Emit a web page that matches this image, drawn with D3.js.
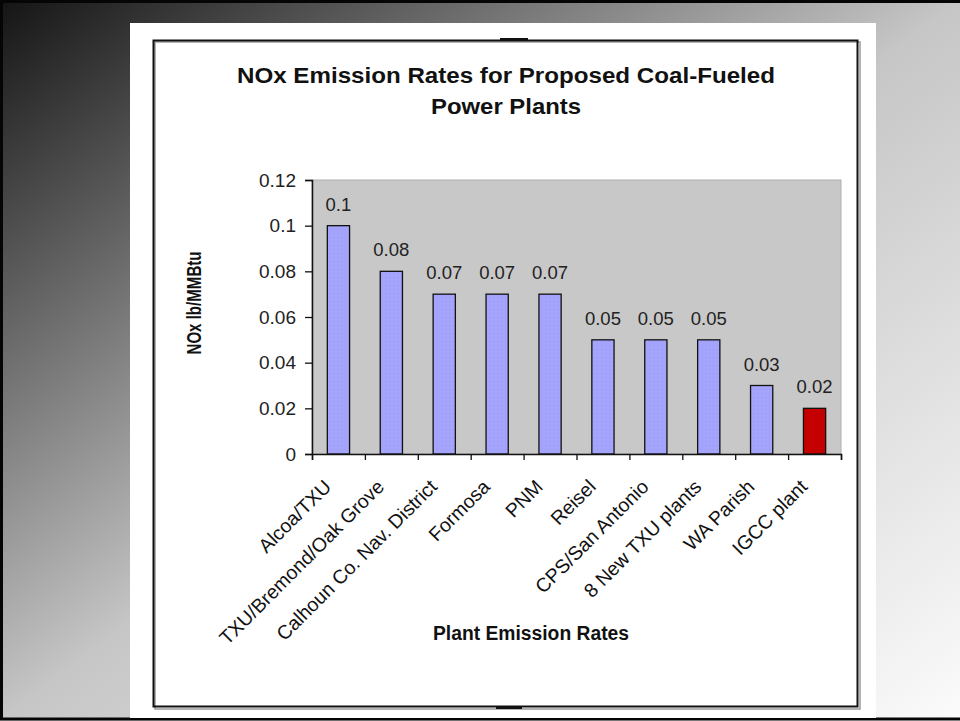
<!DOCTYPE html>
<html>
<head>
<meta charset="utf-8">
<script src="https://cdn.jsdelivr.net/npm/d3@7"></script>
<style>
  html, body { margin: 0; padding: 0; background: #fff; }
  svg { display: block; }
  text { font-family: Arial, "Liberation Sans", sans-serif; }
</style>
</head>
<body>
<svg id="chart" width="960" height="721"></svg>
<script>
// ---- data ----
const titleLines = ["NOx Emission Rates for Proposed Coal-Fueled", "Power Plants"];
const categories = ["Alcoa/TXU", "TXU/Bremond/Oak Grove", "Calhoun Co. Nav. District", "Formosa", "PNM", "Reisel", "CPS/San Antonio", "8 New TXU plants", "WA Parish", "IGCC plant"];
const values = [0.1, 0.08, 0.07, 0.07, 0.07, 0.05, 0.05, 0.05, 0.03, 0.02];
const yTicks = [0, 0.02, 0.04, 0.06, 0.08, 0.1, 0.12];
const highlighted = ["IGCC plant"];
const xTitle = "Plant Emission Rates";
const yTitle = "NOx lb/MMBtu";

// ---- layout ----
const W = 960, H = 721;
const plot = { left: 312, right: 841, top: 180, bottom: 454 };

const svg = d3.select("#chart");
const defs = svg.append("defs");

const bg = defs.append("linearGradient").attr("id", "bg")
  .attr("x1", 0).attr("y1", 0).attr("x2", 1).attr("y2", 1);
bg.append("stop").attr("offset", 0).attr("stop-color", "#141414");
bg.append("stop").attr("offset", 0.5).attr("stop-color", "#c6c6c6");
bg.append("stop").attr("offset", 1).attr("stop-color", "#fbfbfb");

const pat = defs.append("pattern").attr("id", "dots")
  .attr("patternUnits", "userSpaceOnUse").attr("width", 4).attr("height", 4);
pat.append("rect").attr("width", 4).attr("height", 4).attr("fill", "#a4a4fc");
pat.append("rect").attr("x", 1).attr("y", 1).attr("width", 1).attr("height", 1).attr("fill", "#9898ee");

// background
svg.append("rect").attr("width", W).attr("height", H).attr("fill", "url(#bg)");
// outer dark frame (top, left, bottom)
svg.append("path").attr("d", `M${W},1.5 H1.5 V${H - 2} H${W}`)
  .attr("fill", "none").attr("stroke", "#050505").attr("stroke-width", 3);

// white panel
svg.append("rect").attr("x", 130).attr("y", 23).attr("width", 746).attr("height", H - 23 - 3)
  .attr("fill", "#ffffff");

// chart border with soft shadow
svg.append("rect").attr("x", 155).attr("y", 42).attr("width", 705).attr("height", 667)
  .attr("fill", "none").attr("stroke", "#9a9a9a").attr("stroke-width", 1.5);
svg.append("rect").attr("x", 153.5).attr("y", 40.5).attr("width", 704).attr("height", 666)
  .attr("fill", "none").attr("stroke", "#111").attr("stroke-width", 2);
// selection handles
svg.append("rect").attr("x", 500).attr("y", 38).attr("width", 28).attr("height", 3).attr("fill", "#111");
svg.append("rect").attr("x", 496).attr("y", 706).attr("width", 26).attr("height", 3).attr("fill", "#111");

// title
svg.append("text").attr("x", 506).attr("y", 83).attr("text-anchor", "middle")
  .attr("font-size", 22).attr("font-weight", "bold").attr("fill", "#111")
  .attr("textLength", 538).attr("lengthAdjust", "spacingAndGlyphs").text(titleLines[0]);
svg.append("text").attr("x", 506).attr("y", 114).attr("text-anchor", "middle")
  .attr("font-size", 22).attr("font-weight", "bold").attr("fill", "#111")
  .attr("textLength", 150).attr("lengthAdjust", "spacingAndGlyphs").text(titleLines[1]);

// scales
const x = d3.scaleBand().domain(categories).range([plot.left, plot.right])
  .paddingInner(0.58).paddingOuter(0.29);
const xb = d3.scaleLinear().domain([0, categories.length]).range([plot.left, plot.right]);
const y = d3.scaleLinear().domain([0, 0.12]).range([plot.bottom, plot.top]);

// plot area
svg.append("rect").attr("x", plot.left).attr("y", plot.top)
  .attr("width", plot.right - plot.left).attr("height", plot.bottom - plot.top)
  .attr("fill", "#c8c8c8").attr("stroke", "#b0b0b0").attr("stroke-width", 1);

// bars
svg.append("g").selectAll("rect").data(categories).join("rect")
  .attr("x", d => x(d))
  .attr("y", (d, i) => y(values[i]))
  .attr("width", x.bandwidth())
  .attr("height", (d, i) => y(0) - y(values[i]))
  .attr("fill", d => highlighted.includes(d) ? "#c40000" : "url(#dots)")
  .attr("stroke", "#111").attr("stroke-width", 1.3);

// value labels
const fmt = v => String(+v.toFixed(2));
svg.append("g").selectAll("text").data(categories).join("text")
  .attr("x", d => x(d) + x.bandwidth() / 2)
  .attr("y", (d, i) => y(values[i]) - 15)
  .attr("text-anchor", "middle").attr("font-size", 18.5).attr("fill", "#222")
  .text((d, i) => fmt(values[i]));

// y axis
const yAxis = svg.append("g").attr("transform", `translate(${plot.left},0)`)
  .call(d3.axisLeft(y).tickValues(yTicks).tickSize(7).tickPadding(9).tickFormat(fmt));
yAxis.select(".domain").attr("stroke", "#111").attr("stroke-width", 1.5);
yAxis.selectAll(".tick line").attr("stroke", "#111").attr("stroke-width", 1.3);
yAxis.selectAll(".tick text").attr("font-size", 19).attr("fill", "#222")
  .attr("font-family", "Arial, 'Liberation Sans', sans-serif");

// x axis (ticks between categories)
const xAxis = svg.append("g").attr("transform", `translate(0,${plot.bottom})`)
  .call(d3.axisBottom(xb).tickValues(d3.range(categories.length + 1)).tickSize(6).tickFormat(""));
xAxis.select(".domain").attr("stroke", "#111").attr("stroke-width", 1.5);
xAxis.selectAll(".tick line").attr("stroke", "#111").attr("stroke-width", 1.3);

// category labels
svg.append("g").selectAll("text").data(categories).join("text")
  .attr("transform", d => `translate(${x(d) + x.bandwidth() / 2 - 6},${plot.bottom + 34}) rotate(-45)`)
  .attr("text-anchor", "end").attr("font-size", 19.5).attr("fill", "#111")
  .text(d => d);

// axis titles
svg.append("text").attr("x", 531).attr("y", 640).attr("text-anchor", "middle")
  .attr("font-size", 20).attr("font-weight", "bold").attr("fill", "#111")
  .attr("textLength", 196).attr("lengthAdjust", "spacingAndGlyphs").text(xTitle);
svg.append("text").attr("transform", "translate(201,303) rotate(-90)").attr("text-anchor", "middle")
  .attr("font-size", 20).attr("font-weight", "bold").attr("fill", "#111")
  .attr("textLength", 103).attr("lengthAdjust", "spacingAndGlyphs").text(yTitle);
</script>
</body>
</html>
